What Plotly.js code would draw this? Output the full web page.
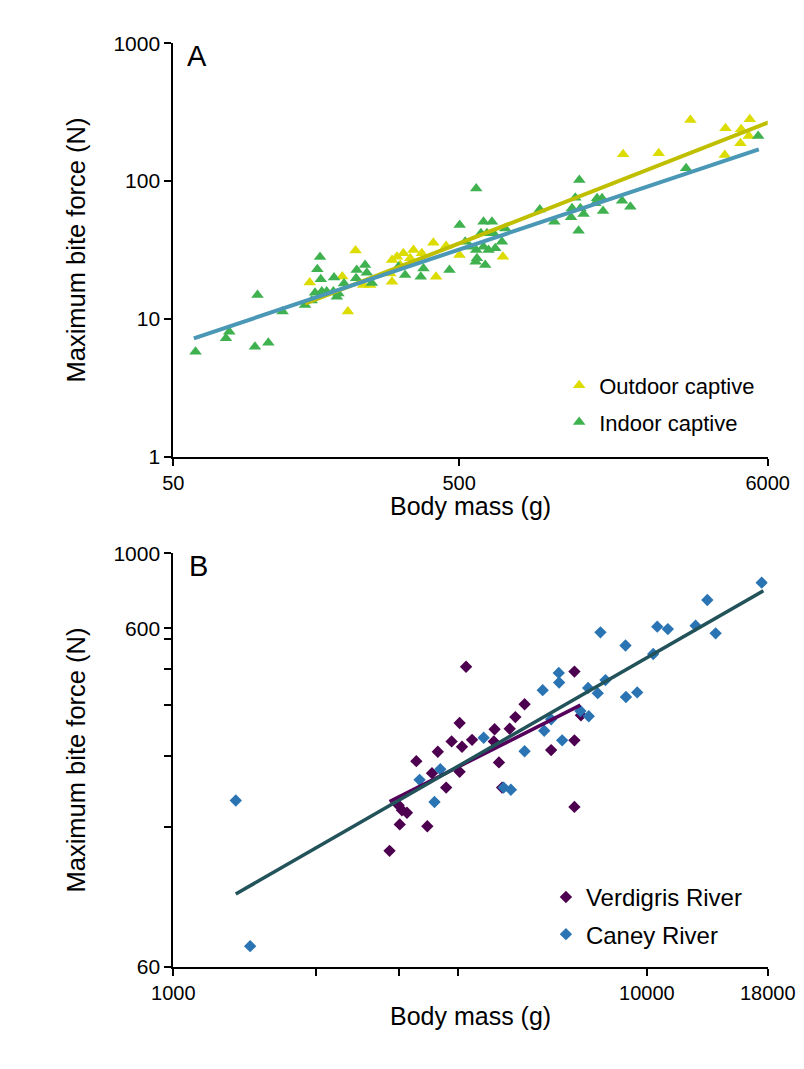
<!DOCTYPE html>
<html>
<head>
<meta charset="utf-8">
<script src="https://cdn.plot.ly/plotly-3.0.1.min.js"></script>
<style>html,body{margin:0;padding:0;background:#fff;}#chart{width:804px;height:1069px;}</style>
</head>
<body>
<div id="chart"></div>
<script>
// ---- Panel A data ----
const outdoorMass = [150,195,204,217,231,244,287,291,291,303,311,319,337,346,370,406,450,415,501,711,1872,2494,3219,4270,5194,4846,5152,4818,4246];
const outdoorForce = [18.4,20.3,11.3,31.3,17.6,17.6,21.4,18.6,26.8,28.3,24.6,29.9,27.5,31.6,29.9,35.7,33.8,20.2,29.1,28.3,156.5,159.1,277.6,241.6,280.9,237.6,212.5,188.1,154.7];
const indoorMass = [59.8,76.4,78.5,96.5,107.5,98.5,120.5,144.5,152.5,159.5,163,164,156.6,165.3,172,181.5,189,186.6,182.5,197.8,219,234.3,218,237.6,247.4,306.6,323.5,375,367,462.4,502,524.8,573.5,608.3,651,595.7,625.2,659.4,724.6,546.4,573.5,608.3,633.3,668.6,705.6,576.8,616.6,571,957,1076,1241,1327,1362,1231,1308,1274,1316,1518,1580,1497,1593,1857,1985,3110,5557];
const indoorForce = [5.78,7.23,8.07,6.28,6.72,14.9,11.3,12.6,13.6,22.9,28.1,19.4,15.5,15.8,15.8,15.8,15.3,14.5,20.0,18.1,22.6,24.6,19.7,21.6,18.2,23.9,20.8,23.2,20.2,22.6,48.0,36.3,88.4,50.8,50.8,41.8,41.8,41.8,45.3,33.4,31.6,33.4,31.6,32.5,36.3,27.5,24.6,26.0,62.2,50.8,63.5,63.5,57.7,54.6,43.7,75.8,101.9,75.0,75.0,69.0,60.7,72.1,65.2,123.8,212.5];
const outdoorFitMass = [144.5, 6050];
const outdoorFitForce = [12.9, 267];
const indoorFitMass = [59, 5585];
const indoorFitForce = [7.23, 170.2];

// ---- Panel B data ----
const verdigrisMass = [4152,4024,3870,4071,4275,3619,3260,3518,4024,3769,2990,3040,3115,3008,3439,2862,7033,5519,5277,5133,4770,4753,4872,6280,7033,7259,7033,4947];
const verdigrisForce = [462,315,278,268,281,259,243,224,226,203,180,174,171,158,156,132,447,358,328,303,302,278,241,262,280,332,178,203];
const caneyMass = [1355,1453,3663,3312,3561,4523,4985,5163,5519,6072,6280,6625,6027,6516,6528,7240,7540,7517,7877,8178,7981,9016,9036,9544,10316,10520,11076,12677,13973,13421,17480];
const caneyForce = [186,69,230,214,184,285,203,200,260,299,323,280,394,443,415,342,330,400,386,422,584,534,376,388,504,607,597,611,580,728,819];
const verdigrisFitMass = [2862, 7240];
const verdigrisFitForce = [184.5, 356];
const caneyFitMass = [1355, 17625];
const caneyFitForce = [98.4, 775];

// ---- Tick labels and titles ----
const aXTickVals = [50, 500, 6000];
const aXTickText = ['50', '500', '6000'];
const aYTickVals = [1, 10, 100, 1000];
const aYTickText = ['1', '10', '100', '1000'];
const bXTickVals = [1000, 2000, 3000, 4000, 10000, 18000];
const bXTickText = ['1000', '', '', '', '10000', '18000'];
const bYTickVals = [60, 155, 252, 355, 454, 558, 600, 1000];
const bYTickText = ['60', '', '', '', '', '', '600', '1000'];
const xTitle = 'Body mass (g)';
const yTitle = 'Maximum bite force (N)';

const FONT = 'Liberation Sans, Arial, sans-serif';

const traces = [
  {x: outdoorMass, y: outdoorForce, type: 'scatter', mode: 'markers', name: 'Outdoor captive',
   marker: {symbol: 'triangle-up', size: 11, color: '#dcdc00'}, xaxis: 'x', yaxis: 'y',
   legend: 'legend', legendgroup: 'g1'},
  {x: indoorMass, y: indoorForce, type: 'scatter', mode: 'markers', name: 'Indoor captive',
   marker: {symbol: 'triangle-up', size: 11, color: '#3fb24f'}, xaxis: 'x', yaxis: 'y',
   legend: 'legend', legendgroup: 'g2'},
  {x: outdoorFitMass, y: outdoorFitForce, type: 'scatter', mode: 'lines', showlegend: false,
   line: {color: '#bfbf00', width: 4}, xaxis: 'x', yaxis: 'y'},
  {x: indoorFitMass, y: indoorFitForce, type: 'scatter', mode: 'lines', showlegend: false,
   line: {color: '#4a97b6', width: 4}, xaxis: 'x', yaxis: 'y'},
  {x: verdigrisMass, y: verdigrisForce, type: 'scatter', mode: 'markers', name: 'Verdigris River',
   marker: {symbol: 'diamond', size: 9.5, color: '#4d004f'}, xaxis: 'x2', yaxis: 'y2',
   legend: 'legend2', legendgroup: 'g3'},
  {x: caneyMass, y: caneyForce, type: 'scatter', mode: 'markers', name: 'Caney River',
   marker: {symbol: 'diamond', size: 9.5, color: '#2a74b4'}, xaxis: 'x2', yaxis: 'y2',
   legend: 'legend2', legendgroup: 'g4'},
  {x: verdigrisFitMass, y: verdigrisFitForce, type: 'scatter', mode: 'lines', showlegend: false,
   line: {color: '#55005a', width: 3.5}, xaxis: 'x2', yaxis: 'y2'},
  {x: caneyFitMass, y: caneyFitForce, type: 'scatter', mode: 'lines', showlegend: false,
   line: {color: '#22525a', width: 3.5}, xaxis: 'x2', yaxis: 'y2'}
];

const axisBase = {
  showline: true, linecolor: '#000', linewidth: 2, showgrid: false, zeroline: false,
  ticks: 'outside', ticklen: 7, tickwidth: 2, tickcolor: '#000',
  tickfont: {family: FONT, size: 21, color: '#000'}, tickmode: 'array', type: 'log'
};
const xTickFont = {family: FONT, size: 20, color: '#000'};

const layout = {
  width: 804, height: 1069,
  margin: {l: 0, r: 0, t: 0, b: 0},
  paper_bgcolor: '#fff', plot_bgcolor: '#fff',
  font: {family: FONT, color: '#000'},
  xaxis: Object.assign({}, axisBase, {
    domain: [0.21555, 0.95485], anchor: 'y',
    range: [Math.log10(50), Math.log10(6000)],
    tickvals: aXTickVals, ticktext: aXTickText, tickfont: xTickFont
  }),
  yaxis: Object.assign({}, axisBase, {
    domain: [0.57278, 0.95949], anchor: 'x',
    range: [0, 3],
    tickvals: aYTickVals, ticktext: aYTickText,
    title: {text: yTitle, font: {family: FONT, size: 25.5, color: '#000'}, standoff: 20}
  }),
  xaxis2: Object.assign({}, axisBase, {
    domain: [0.21555, 0.95485], anchor: 'y2',
    range: [3, Math.log10(18000)],
    tickvals: bXTickVals, ticktext: bXTickText, tickfont: xTickFont
  }),
  yaxis2: Object.assign({}, axisBase, {
    domain: [0.09570, 0.48241], anchor: 'x2',
    range: [Math.log10(60), 3],
    tickvals: bYTickVals, ticktext: bYTickText,
    title: {text: yTitle, font: {family: FONT, size: 25.5, color: '#000'}, standoff: 20}
  }),
  legend: {
    x: 0.6955, y: 0.659, xanchor: 'left', yanchor: 'top',
    font: {family: FONT, size: 22, color: '#000'}, bgcolor: 'rgba(0,0,0,0)',
    traceorder: 'grouped', tracegroupgap: 5
  },
  legend2: {
    x: 0.679, y: 0.1816, xanchor: 'left', yanchor: 'top',
    font: {family: FONT, size: 24, color: '#000'}, bgcolor: 'rgba(0,0,0,0)',
    traceorder: 'grouped', tracegroupgap: 3
  },
  annotations: [
    {text: xTitle, xref: 'paper', yref: 'paper', x: 0.5852, y: 0.5265, showarrow: false,
     font: {family: FONT, size: 25, color: '#000'}, xanchor: 'center', yanchor: 'middle'},
    {text: xTitle, xref: 'paper', yref: 'paper', x: 0.5852, y: 0.0495, showarrow: false,
     font: {family: FONT, size: 25, color: '#000'}, xanchor: 'center', yanchor: 'middle'},
    {text: 'A', xref: 'paper', yref: 'paper', x: 0.2450, y: 0.9476, showarrow: false,
     font: {family: FONT, size: 29, color: '#000'}, xanchor: 'center', yanchor: 'middle'},
    {text: 'B', xref: 'paper', yref: 'paper', x: 0.2463, y: 0.4705, showarrow: false,
     font: {family: FONT, size: 29, color: '#000'}, xanchor: 'center', yanchor: 'middle'}
  ],
  showlegend: true
};

Plotly.newPlot('chart', traces, layout, {displayModeBar: false, staticPlot: true});
</script>
</body>
</html>
